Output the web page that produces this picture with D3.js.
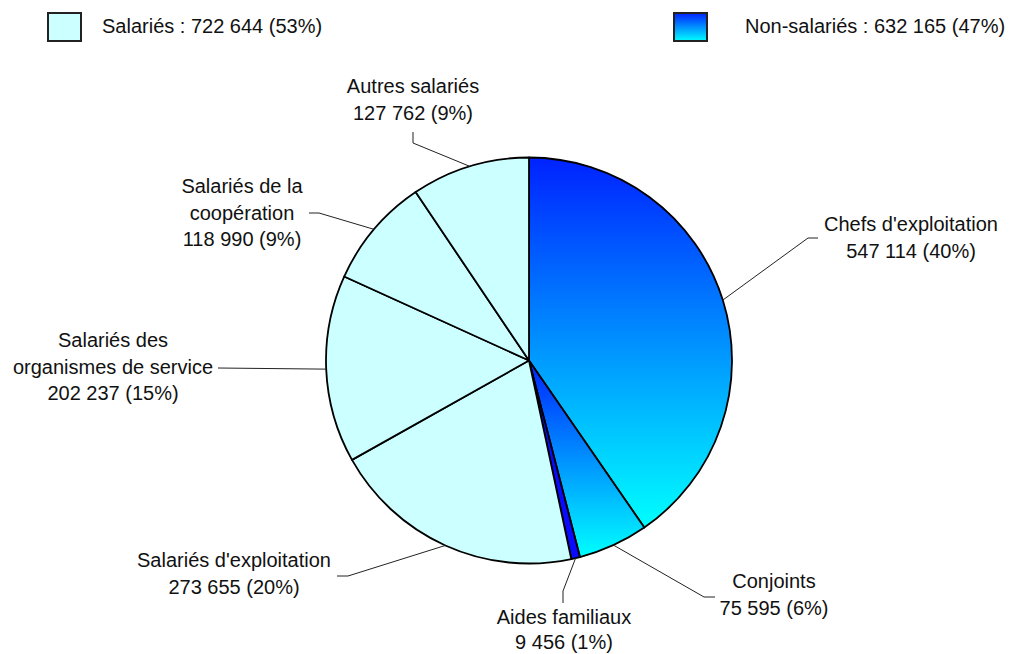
<!DOCTYPE html>
<html>
<head>
<meta charset="utf-8">
<script src="https://cdn.jsdelivr.net/npm/d3@7"></script>
<style>
  html, body { margin: 0; padding: 0; background: #ffffff; }
  svg { display: block; }
  text { font-family: "Liberation Sans", Arial, sans-serif; font-size: 20px; fill: #111; }
</style>
</head>
<body>
<svg id="chart" width="1016" height="654"></svg>
<script>
// ---- data ----
const categories = ["Chefs d'exploitation", "Conjoints", "Aides familiaux", "Salariés d'exploitation",
                    "Salariés des organismes de service", "Salariés de la coopération", "Autres salariés"];
const values = [547114, 75595, 9456, 273655, 202237, 118990, 127762];
const groups = ["Non-salariés", "Non-salariés", "Non-salariés", "Salariés", "Salariés", "Salariés", "Salariés"];
const groupNames = ["Salariés", "Non-salariés"];
// label text lines (name part)
const labelLines = [["Chefs d'exploitation"], ["Conjoints"], ["Aides familiaux"], ["Salariés d'exploitation"],
                    ["Salariés des", "organismes de service"], ["Salariés de la", "coopération"], ["Autres salariés"]];

// ---- layout (positions / styles only) ----
const W = 1016, H = 654;
const cx = 529, cy = 360.5, R = 203;
const lineH = 26.7;
const labelLayout = [
  { x: 911, y: 231, start: [818, 238], elbow: [808, 238] },
  { x: 774, y: 588, start: [715, 597], elbow: [704, 597] },
  { x: 564, y: 624, lh: 25, start: [563, 603], elbow: [563, 591] },
  { x: 234, y: 567, start: [337, 576], elbow: [348, 576] },
  { x: 113, y: 347, start: [218, 368], elbow: [218, 368] },
  { x: 242, y: 193, start: [309, 213], elbow: [319, 213] },
  { x: 413, y: 93,  start: [413, 132], elbow: [413, 143] }
];
const sliceFill = ["url(#gradBlue)", "url(#gradBlue)", "#0a0aff", "#ccffff", "#ccffff", "#ccffff", "#ccffff"];
const legendLayout = [
  { rx: 48, ry: 13, tx: 102, fill: "#ccffff" },
  { rx: 674, ry: 13, tx: 745, fill: "url(#gradBlue)" }
];

const locale = d3.formatLocale({ decimal: ",", thousands: " ", grouping: [3], currency: ["", " €"] });
const fmt = locale.format(",d");
const total = d3.sum(values);
const pct = v => Math.round(v / total * 100) + "%";

const svg = d3.select("#chart");
const defs = svg.append("defs");
const g1 = defs.append("linearGradient").attr("id", "gradBlue")
  .attr("x1", 0).attr("y1", 0).attr("x2", 0).attr("y2", 1);
g1.append("stop").attr("offset", "0%").attr("stop-color", "#0022ff");
g1.append("stop").attr("offset", "100%").attr("stop-color", "#00ffff");

// ---- pie ----
const pie = d3.pie().sort(null).value(d => d.value).startAngle(0).endAngle(2 * Math.PI);
const data = categories.map((c, i) => ({ name: c, value: values[i], group: groups[i], i }));
const arcs = pie(data);
const arc = d3.arc().innerRadius(0).outerRadius(R);

const pieG = svg.append("g").attr("transform", `translate(${cx},${cy})`);
pieG.selectAll("path.slice").data(arcs).join("path")
  .attr("class", "slice")
  .attr("d", arc)
  .attr("fill", d => sliceFill[d.data.i])
  .attr("stroke", "#000")
  .attr("stroke-width", 1.8)
  .attr("stroke-linejoin", "round");

// ---- leaders & labels ----
const labG = svg.append("g");
arcs.forEach(a => {
  const i = a.data.i;
  const L = labelLayout[i];
  const mid = (a.startAngle + a.endAngle) / 2;
  const ex = cx + R * Math.sin(mid), ey = cy - R * Math.cos(mid);
  labG.append("polyline")
    .attr("points", [L.start, L.elbow, [ex, ey]].map(p => p.join(",")).join(" "))
    .attr("fill", "none").attr("stroke", "#222").attr("stroke-width", 1);
  const lines = labelLines[i].concat([fmt(a.data.value) + " (" + pct(a.data.value) + ")"]);
  const t = labG.append("text").attr("text-anchor", "middle");
  const lh = L.lh || lineH;
  lines.forEach((ln, k) => {
    t.append("tspan").attr("x", L.x).attr("y", L.y + k * lh).text(ln);
  });
});

// ---- legend ----
groupNames.forEach((gName, k) => {
  const sum = d3.sum(data.filter(d => d.group === gName), d => d.value);
  const L = legendLayout[k];
  svg.append("rect").attr("x", L.rx).attr("y", L.ry).attr("width", 33).attr("height", 28)
    .attr("fill", L.fill).attr("stroke", "#222").attr("stroke-width", 2);
  svg.append("text").attr("x", L.tx).attr("y", 33)
    .text(`${gName} : ${fmt(sum)} (${pct(sum)})`);
});
</script>
</body>
</html>
